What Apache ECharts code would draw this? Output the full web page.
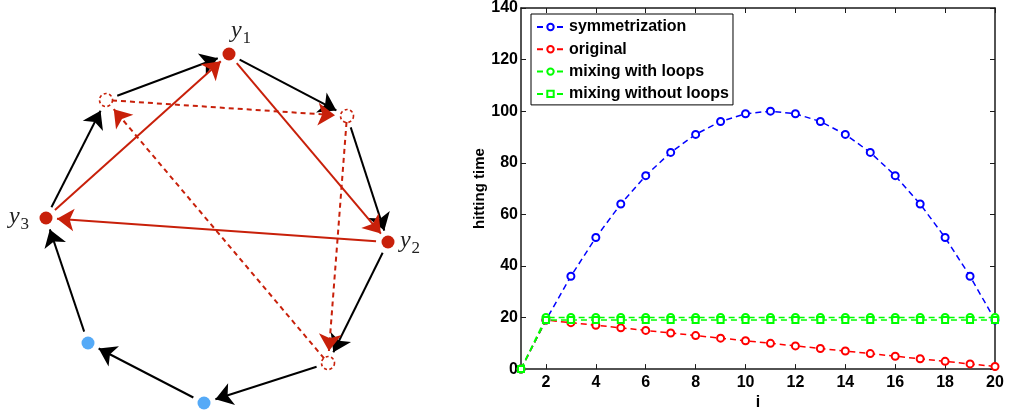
<!DOCTYPE html>
<html>
<head>
<meta charset="utf-8">
<script src="https://cdn.jsdelivr.net/npm/echarts@6/dist/echarts.min.js"></script>
<style>
html,body{margin:0;padding:0;background:#fff;}
#chart{width:1009px;height:416px;}
</style>
</head>
<body>
<div id="chart"></div>
<script>
// ---------- Diagram data (left panel) ----------
const nodeNames = ['y1', 'b', 'y2', 'c', 'u2', 'u1', 'y3', 'a'];
const nodeX = [229, 347, 388, 328, 204, 88, 46, 106];
const nodeY = [54, 116, 242, 363, 403, 343, 218, 100];
const nodeKind = ['red', 'hollow', 'red', 'hollow', 'blue', 'blue', 'red', 'hollow'];
const nodeLabels = { y1: '1', y2: '2', y3: '3' };
const ringEdges = [[0, 1], [1, 2], [2, 3], [3, 4], [4, 5], [5, 6], [6, 7], [7, 0]];
const solidEdges = [[0, 2], [2, 6], [6, 0]];
const dashedEdges = [[7, 1], [1, 3], [3, 7]];

// ---------- Chart data (right panel) ----------
const iValues = [1, 2, 3, 4, 5, 6, 7, 8, 9, 10, 11, 12, 13, 14, 15, 16, 17, 18, 19, 20];
const xTicks = [2, 4, 6, 8, 10, 12, 14, 16, 18, 20];
const symmetrization = [0, 19, 36, 51, 64, 75, 84, 91, 96, 99, 100, 99, 96, 91, 84, 75, 64, 51, 36, 19];
const original = [0, 19, 18, 17, 16, 15, 14, 13, 12, 11, 10, 9, 8, 7, 6, 5, 4, 3, 2, 1];
const mixingWithLoops = [0, 20, 20, 20, 20, 20, 20, 20, 20, 20, 20, 20, 20, 20, 20, 20, 20, 20, 20, 20];
const mixingWithoutLoops = [0, 19, 19, 19, 19, 19, 19, 19, 19, 19, 19, 19, 19, 19, 19, 19, 19, 19, 19, 19];

const RED = '#c8200a';
const BLUE_NODE = '#55aaf7';
const ARROW = 17;

function edgeCoords(edges, startGap, endGap) {
  return edges.map(function (e) {
    const x1 = nodeX[e[0]], y1 = nodeY[e[0]], x2 = nodeX[e[1]], y2 = nodeY[e[1]];
    const dx = x2 - x1, dy = y2 - y1, L = Math.sqrt(dx * dx + dy * dy);
    const ux = dx / L, uy = dy / L;
    return { coords: [[x1 + ux * startGap, y1 + uy * startGap], [x2 - ux * endGap, y2 - uy * endGap]] };
  });
}
function nodesOf(kind) {
  const out = [];
  for (let k = 0; k < nodeNames.length; k++) if (nodeKind[k] === kind) out.push({ name: nodeNames[k], value: [nodeX[k], nodeY[k]] });
  return out;
}
function mk(arr) { return iValues.map(function (v, k) { return [v, arr[k]]; }); }

const labelFont = { fontFamily: 'Liberation Serif', color: '#222' };
const labelOffsets = { y1: [12, -21], y2: [22, 1], y3: [-27, 1] };

const chart = echarts.init(document.getElementById('chart'), null, { renderer: 'canvas' });
const axisCol = '#1a1a1a';
const tickFont = { fontFamily: 'Liberation Sans', fontWeight: 'bold', fontSize: 16, color: '#000' };

chart.setOption({
  animation: false,
  backgroundColor: '#fff',
  grid: [
    { left: 0, top: 0, width: 440, height: 416, show: false },
    { left: 521, top: 8, right: 14, bottom: 37, show: false }
  ],
  xAxis: [
    { gridIndex: 0, type: 'value', min: 0, max: 440, show: false },
    {
      gridIndex: 1, type: 'value', min: 1, max: 20, position: 'bottom',
      name: 'i', nameLocation: 'middle', nameGap: 21,
      nameTextStyle: { fontFamily: 'Liberation Sans', fontWeight: 'bold', fontSize: 16, color: '#000' },
      axisLine: { show: true, onZero: false, lineStyle: { color: axisCol, width: 1.5 } },
      axisTick: { show: true, inside: true, length: 5, customValues: xTicks, lineStyle: { color: axisCol, width: 1 } },
      axisLabel: { show: true, customValues: xTicks, margin: 5, ...tickFont },
      splitLine: { show: false }
    },
    {
      gridIndex: 1, type: 'value', min: 1, max: 20, position: 'top',
      axisLine: { show: true, onZero: false, lineStyle: { color: axisCol, width: 1.5 } },
      axisTick: { show: true, inside: true, length: 5, customValues: xTicks, lineStyle: { color: axisCol, width: 1 } },
      axisLabel: { show: false },
      splitLine: { show: false }
    }
  ],
  yAxis: [
    { gridIndex: 0, type: 'value', min: 0, max: 416, inverse: true, show: false },
    {
      gridIndex: 1, type: 'value', min: 0, max: 140, interval: 20, position: 'left',
      name: 'hitting time', nameLocation: 'middle', nameGap: 33, nameRotate: 90,
      nameTextStyle: { fontFamily: 'Liberation Sans', fontWeight: 'bold', fontSize: 15, color: '#000' },
      axisLine: { show: true, onZero: false, lineStyle: { color: axisCol, width: 1.5 } },
      axisTick: { show: true, inside: true, length: 5, lineStyle: { color: axisCol, width: 1 } },
      axisLabel: { show: true, margin: 3, ...tickFont },
      splitLine: { show: false }
    },
    {
      gridIndex: 1, type: 'value', min: 0, max: 140, interval: 20, position: 'right',
      axisLine: { show: true, onZero: false, lineStyle: { color: axisCol, width: 1.5 } },
      axisTick: { show: true, inside: true, length: 5, lineStyle: { color: axisCol, width: 1 } },
      axisLabel: { show: false },
      splitLine: { show: false }
    }
  ],
  legend: {
    orient: 'vertical', left: 531, top: 14,
    padding: [5, 4, 3, 5],
    itemWidth: 27, itemHeight: 8, itemGap: 6.3,
    borderColor: '#000', borderWidth: 1, backgroundColor: '#fff',
    textStyle: { fontFamily: 'Liberation Sans', fontWeight: 'bold', fontSize: 16, color: '#000' },
    data: ['symmetrization', 'original', 'mixing with loops', 'mixing without loops']
  },
  series: [
    // diagram edges
    {
      type: 'lines', coordinateSystem: 'cartesian2d', xAxisIndex: 0, yAxisIndex: 0, z: 2,
      symbol: ['none', 'arrow'], symbolSize: ARROW,
      lineStyle: { color: '#000', width: 2, opacity: 1 },
      data: edgeCoords(ringEdges, 12, 12)
    },
    {
      type: 'lines', coordinateSystem: 'cartesian2d', xAxisIndex: 0, yAxisIndex: 0, z: 2,
      symbol: ['none', 'arrow'], symbolSize: ARROW,
      lineStyle: { color: RED, width: 2, opacity: 1 },
      data: edgeCoords(solidEdges, 12, 11)
    },
    {
      type: 'lines', coordinateSystem: 'cartesian2d', xAxisIndex: 0, yAxisIndex: 0, z: 2,
      symbol: ['none', 'arrow'], symbolSize: ARROW,
      lineStyle: { color: RED, width: 2, opacity: 1, type: [5, 4] },
      data: edgeCoords(dashedEdges, 6, 12)
    },
    // diagram nodes
    {
      type: 'scatter', xAxisIndex: 0, yAxisIndex: 0, z: 3, symbol: 'circle', symbolSize: 13,
      itemStyle: { color: RED, opacity: 1 },
      label: {
        show: true, position: 'inside',
        formatter: function (p) { return '{v|y}{s|' + nodeLabels[p.name] + '}'; },
        rich: {
          v: { ...labelFont, fontStyle: 'italic', fontSize: 24, verticalAlign: 'top', padding: [0, 1, 0, 0] },
          s: { ...labelFont, fontSize: 17, verticalAlign: 'top', padding: [11, 0, 0, 0] }
        }
      },
      data: nodesOf('red').map(function (d) {
        return { name: d.name, value: d.value, label: { offset: labelOffsets[d.name] } };
      })
    },
    {
      type: 'scatter', xAxisIndex: 0, yAxisIndex: 0, z: 3, symbol: 'circle', symbolSize: 13,
      itemStyle: { color: BLUE_NODE, opacity: 1 },
      data: nodesOf('blue')
    },
    {
      type: 'scatter', xAxisIndex: 0, yAxisIndex: 0, z: 3, symbol: 'circle', symbolSize: 13,
      itemStyle: { color: 'rgba(0,0,0,0)', borderColor: RED, borderWidth: 1.6, borderType: [3, 2.5], opacity: 1 },
      data: nodesOf('hollow')
    },
    // chart series
    {
      name: 'symmetrization', type: 'line', xAxisIndex: 1, yAxisIndex: 1, z: 3,
      symbol: 'emptyCircle', symbolSize: 7, showAllSymbol: true,
      lineStyle: { color: '#0000ff', width: 1.5, type: [6, 4] },
      itemStyle: { color: '#0000ff', borderWidth: 1.3 },
      data: mk(symmetrization)
    },
    {
      name: 'original', type: 'line', xAxisIndex: 1, yAxisIndex: 1, z: 3,
      symbol: 'emptyCircle', symbolSize: 7, showAllSymbol: true,
      lineStyle: { color: '#ff0000', width: 1.5, type: [6, 4] },
      itemStyle: { color: '#ff0000', borderWidth: 1.3 },
      data: mk(original)
    },
    {
      name: 'mixing with loops', type: 'line', xAxisIndex: 1, yAxisIndex: 1, z: 4,
      symbol: 'emptyCircle', symbolSize: 7, showAllSymbol: true,
      lineStyle: { color: '#00ff00', width: 1.5, type: [6, 4] },
      itemStyle: { color: '#00ff00', borderWidth: 1.3 },
      data: mk(mixingWithLoops)
    },
    {
      name: 'mixing without loops', type: 'line', xAxisIndex: 1, yAxisIndex: 1, z: 4,
      symbol: 'emptyRect', symbolSize: 6, showAllSymbol: true,
      lineStyle: { color: '#00ff00', width: 1.5, type: [6, 4] },
      itemStyle: { color: '#00ff00', borderWidth: 1.3 },
      data: mk(mixingWithoutLoops)
    }
  ]
});
</script>
</body>
</html>
